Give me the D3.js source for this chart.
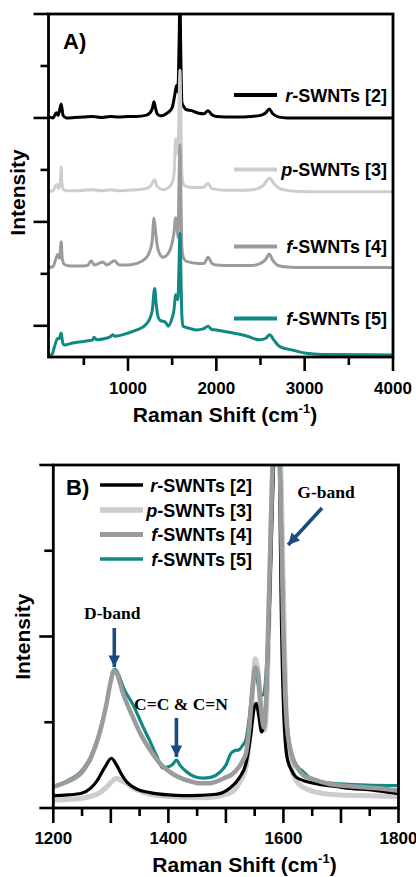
<!DOCTYPE html>
<html><head><meta charset="utf-8">
<script src="https://cdn.jsdelivr.net/npm/d3@7"></script>
<style>
html,body{margin:0;padding:0;background:#fff;}
svg{display:block;}
text{font-family:"Liberation Sans",Arial,sans-serif;font-weight:bold;fill:#000;}
.serif{font-family:"Liberation Serif","Times New Roman",serif;}
</style>
</head><body>
<svg id="c" width="416" height="877"></svg>
<script>
// ---------- DATA ----------
const seriesNames = ["r", "p", "f", "f"];
const seriesRefs = ["-SWNTs [2]", "-SWNTs [3]", "-SWNTs [4]", "-SWNTs [5]"];

// Panel A: full Raman spectra (offset stacked), [shift cm-1, intensity a.u.]
const rTop = [[100,4.02],[150,4.0],[190,4.1],[210,4.05],[244,4.27],[265,4.05],[300,4.0],[400,4.01],[500,4.02],[600,4.03],[700,4.01],[800,4.03],[900,4.02],[1000,4.03],[1100,4.03],[1200,4.05],[1250,4.1],[1275,4.18],[1294,4.31],[1310,4.2],[1330,4.08],[1370,4.04],[1400,4.05],[1450,4.1],[1500,4.2],[1530,4.45],[1550,4.63],[1565,4.5],[1578,5.4],[1588,6.3],[1598,5.2],[1610,4.3],[1630,4.22],[1660,4.16],[1720,4.14],[1800,4.09],[1860,4.08],[1906,4.14],[1950,4.06],[2000,4.03],[2200,4.02],[2400,4.03],[2500,4.05],[2560,4.1],[2598,4.17],[2640,4.08],[2700,4.02],[2800,4.0],[3000,4.0],[3500,4.0],[4000,4.0]];
const pTop = [[100,2.58],[150,2.6],[194,2.72],[215,2.64],[235,2.8],[244,3.06],[252,2.75],[270,2.62],[300,2.6],[400,2.6],[500,2.61],[600,2.62],[700,2.6],[800,2.62],[900,2.6],[1000,2.61],[1100,2.62],[1200,2.64],[1260,2.7],[1302,2.81],[1330,2.68],[1400,2.62],[1450,2.65],[1500,2.75],[1525,3.0],[1540,3.6],[1555,3.5],[1565,3.3],[1578,4.2],[1588,4.92],[1598,4.1],[1610,2.9],[1630,2.72],[1660,2.68],[1750,2.66],[1850,2.66],[1906,2.74],[1950,2.64],[2100,2.61],[2300,2.61],[2450,2.63],[2530,2.7],[2604,2.84],[2660,2.72],[2750,2.62],[2900,2.59],[3200,2.58],[4000,2.58]];
const f4Top = [[100,1.12],[150,1.14],[205,1.37],[225,1.3],[244,1.62],[255,1.3],[280,1.18],[350,1.15],[450,1.15],[540,1.16],[584,1.25],[620,1.17],[716,1.23],[760,1.17],[848,1.25],[900,1.17],[1000,1.17],[1100,1.2],[1200,1.3],[1250,1.45],[1275,1.65],[1294,2.07],[1310,1.85],[1330,1.55],[1360,1.38],[1396,1.32],[1450,1.38],[1500,1.6],[1525,1.85],[1536,2.08],[1555,1.95],[1565,1.7],[1578,2.8],[1588,3.48],[1598,2.6],[1610,1.5],[1630,1.3],[1661,1.24],[1800,1.2],[1860,1.2],[1906,1.32],[1950,1.2],[2000,1.17],[2200,1.16],[2400,1.16],[2500,1.2],[2560,1.28],[2598,1.38],[2640,1.26],[2700,1.16],[2800,1.13],[3000,1.12],[4000,1.12]];
const f5Top = [[100,-0.56],[140,-0.55],[168,-0.4],[205,-0.24],[220,-0.25],[244,-0.14],[260,-0.32],[281,-0.37],[376,-0.33],[500,-0.3],[602,-0.27],[613,-0.22],[650,-0.27],[750,-0.24],[800,-0.21],[826,-0.17],[850,-0.2],[1000,-0.14],[1100,-0.08],[1200,0.02],[1250,0.15],[1275,0.3],[1302,0.72],[1320,0.4],[1345,0.15],[1370,0.1],[1415,0.08],[1440,0.03],[1455,-0.01],[1490,0.1],[1520,0.3],[1540,0.6],[1555,0.55],[1565,0.5],[1578,1.2],[1588,1.78],[1598,1.1],[1610,0.2],[1623,-0.01],[1700,-0.05],[1775,-0.08],[1850,-0.06],[1906,-0.01],[1950,-0.07],[2000,-0.08],[2190,-0.14],[2350,-0.2],[2492,-0.27],[2560,-0.24],[2605,-0.17],[2650,-0.27],[2719,-0.40],[2870,-0.47],[3020,-0.53],[3200,-0.55],[4000,-0.56]];

// Panel B: zoom 1200-1800 cm-1, normalised intensity
const rZoom = [[1200,0.036],[1225,0.038],[1249,0.043],[1265,0.058],[1275,0.077],[1290,0.12],[1301,0.145],[1310,0.125],[1318,0.1],[1327,0.077],[1345,0.055],[1368,0.045],[1400,0.038],[1425,0.036],[1455,0.037],[1483,0.04],[1506,0.057],[1523,0.087],[1535,0.13],[1543,0.21],[1549,0.29],[1553,0.305],[1557,0.27],[1562,0.222],[1566,0.24],[1571,0.35],[1576,0.6],[1581,0.9],[1585,1.1],[1589,1.25],[1593,1.0],[1596,0.6],[1600,0.3],[1606,0.15],[1614,0.11],[1622,0.09],[1640,0.077],[1670,0.067],[1690,0.063],[1716,0.057],[1756,0.052],[1780,0.046],[1800,0.042]];
const pZoom = [[1200,0.023],[1225,0.025],[1249,0.028],[1265,0.034],[1281,0.045],[1295,0.065],[1305,0.082],[1310,0.087],[1318,0.08],[1327,0.072],[1339,0.058],[1355,0.046],[1368,0.04],[1400,0.034],[1425,0.031],[1455,0.03],[1483,0.033],[1500,0.04],[1512,0.048],[1523,0.072],[1535,0.12],[1542,0.22],[1547,0.36],[1551,0.435],[1555,0.41],[1559,0.32],[1563,0.26],[1567,0.227],[1571,0.3],[1574,0.5],[1578,0.8],[1582,1.05],[1588,1.25],[1594,1.1],[1598,0.8],[1601,0.55],[1604,0.32],[1608,0.2],[1614,0.12],[1622,0.08],[1635,0.06],[1645,0.052],[1670,0.042],[1700,0.038],[1750,0.036],[1800,0.033]];
const f4Zoom = [[1200,0.062],[1225,0.077],[1250,0.105],[1265,0.145],[1280,0.215],[1292,0.30],[1300,0.37],[1305,0.40],[1311,0.39],[1320,0.34],[1339,0.262],[1355,0.205],[1368,0.17],[1383,0.135],[1397,0.112],[1410,0.097],[1425,0.085],[1440,0.077],[1454,0.072],[1470,0.072],[1483,0.077],[1497,0.087],[1512,0.10],[1523,0.12],[1530,0.14],[1535,0.16],[1541,0.24],[1546,0.34],[1551,0.41],[1556,0.39],[1561,0.29],[1566,0.235],[1570,0.32],[1573,0.5],[1577,0.75],[1581,1.0],[1585,1.2],[1588,1.25],[1593,1.05],[1597,0.75],[1600,0.5],[1603,0.33],[1606,0.24],[1611,0.18],[1617,0.14],[1625,0.115],[1634,0.096],[1650,0.085],[1680,0.07],[1720,0.063],[1760,0.058],[1800,0.05]];
const f5Zoom = [[1200,0.063],[1225,0.08],[1250,0.11],[1265,0.15],[1280,0.22],[1292,0.30],[1300,0.37],[1307,0.405],[1313,0.39],[1322,0.35],[1339,0.30],[1355,0.24],[1368,0.195],[1380,0.15],[1390,0.117],[1400,0.12],[1408,0.128],[1414,0.14],[1420,0.125],[1430,0.108],[1445,0.092],[1460,0.087],[1475,0.09],[1490,0.105],[1500,0.125],[1509,0.16],[1515,0.167],[1523,0.17],[1530,0.185],[1535,0.2],[1541,0.27],[1546,0.35],[1551,0.39],[1555,0.37],[1560,0.33],[1565,0.33],[1570,0.4],[1575,0.6],[1580,0.9],[1585,1.15],[1589,1.25],[1594,1.05],[1598,0.7],[1601,0.45],[1605,0.28],[1610,0.19],[1617,0.145],[1625,0.12],[1634,0.106],[1651,0.082],[1670,0.075],[1686,0.072],[1744,0.067],[1800,0.065]];

const topXMajor = [1000, 2000, 3000, 4000];
const topXMinor = [500, 1500, 2500, 3500];
const topYMajor = [0, 2, 4, 6];
const topYMinor = [1, 3, 5];
const botXMajor = [1200, 1300, 1400, 1500, 1600, 1700, 1800];
const botXLabels = [1200, 1400, 1600, 1800];
const botXMinor = [1250, 1350, 1450, 1550, 1650, 1750];
const botYMajor = [0, 0.5, 1];
const botYMinor = [0.25, 0.75];

// annotations: [label, shift, intensity of arrow tip]
const bandNotes = [["D-band", 1306], ["C=C & C=N", 1414]];

// ---------- STYLE ----------
const colors = ["#000000", "#cdcdcd", "#9b9b9b", "#108983"];
const arrowColor = "#1b4c80";

const svg = d3.select("#c");

function frameAndAxes(g, x, y, L, R, T, B, xMaj, xMin, xLab, yMaj, yMin, majLen, minLen, yMajLen, yMinLen, labBase) {
  // ticks
  const ax = g.append("g");
  xMaj.forEach(v => ax.append("line").attr("x1", x(v)).attr("x2", x(v)).attr("y1", B).attr("y2", B + majLen));
  xMin.forEach(v => ax.append("line").attr("x1", x(v)).attr("x2", x(v)).attr("y1", B).attr("y2", B + minLen));
  yMaj.forEach(v => ax.append("line").attr("x1", L).attr("x2", L - yMajLen).attr("y1", y(v)).attr("y2", y(v)));
  yMin.forEach(v => ax.append("line").attr("x1", L).attr("x2", L - yMinLen).attr("y1", y(v)).attr("y2", y(v)));
  ax.selectAll("line").attr("stroke", "#000").attr("stroke-width", 2.6);
  xLab.forEach(v => g.append("text").attr("x", x(v)).attr("y", labBase).attr("text-anchor", "middle")
    .style("font-size", "17px").text(d3.format("d")(v)));
  g.append("rect").attr("x", L).attr("y", T).attr("width", R - L).attr("height", B - T)
    .attr("fill", "none").attr("stroke", "#000").attr("stroke-width", 2.8);
}

function axisTitles(g, cx, base, iy, ix) {
  const t = g.append("text").attr("x", cx).attr("y", base).attr("text-anchor", "middle").style("font-size", "21px");
  t.append("tspan").text("Raman Shift (cm");
  t.append("tspan").attr("dy", -9).style("font-size", "13px").text("-1");
  t.append("tspan").attr("dy", 9).text(")");
  g.append("text").attr("transform", `translate(${ix},${iy}) rotate(-90)`).attr("text-anchor", "middle")
    .style("font-size", "21px").text("Intensity");
}

function legendRow(g, x1, x2, tx, y, i, w, fs) {
  g.append("line").attr("x1", x1).attr("x2", x2).attr("y1", y).attr("y2", y)
    .attr("stroke", colors[i]).attr("stroke-width", w);
  const t = g.append("text").attr("x", tx).attr("y", y + 6.5).attr("text-anchor", "end").style("font-size", fs + "px");
  t.append("tspan").style("font-style", "italic").text(seriesNames[i]);
  t.append("tspan").text(seriesRefs[i]);
}

// ---------- PANEL A ----------
{
  const L = 48.5, R = 393, T = 14, B = 357;
  const x = d3.scaleLinear().domain([100, 4000]).range([L, R]);
  const y = d3.scaleLinear().domain([-0.6, 6]).range([B, T]);
  const g = svg.append("g");
  svg.append("defs").append("clipPath").attr("id", "clipA").append("rect")
    .attr("x", L).attr("y", T).attr("width", R - L).attr("height", B - T);
  const line = d3.line().x(d => x(d[0])).y(d => y(d[1])).curve(d3.curveMonotoneX);
  const cg = g.append("g").attr("clip-path", "url(#clipA)");
  [rTop, pTop, f4Top, f5Top].forEach((s, i) => {
    cg.append("path").datum(s).attr("d", line).attr("fill", "none")
      .attr("stroke", colors[i]).attr("stroke-width", 3).attr("stroke-linejoin", "round");
  });
  frameAndAxes(g, x, y, L, R, T, B, topXMajor, topXMinor, topXMajor, topYMajor, topYMinor, 14, 8, 15, 8, 393.5);
  axisTitles(g, 225, 421.5, 192.5, 25);
  g.append("text").attr("x", 63).attr("y", 49).style("font-size", "22px").text("A)");
  const rows = [95, 169.5, 246.5, 318.5];
  rows.forEach((yy, i) => legendRow(g, 234, 277, 387, yy, i, 4, 18));
}

// ---------- PANEL B ----------
{
  const L = 53.3, R = 398.5, T = 465, B = 808;
  const x = d3.scaleLinear().domain([1200, 1800]).range([L, R]);
  const y = d3.scaleLinear().domain([0, 1]).range([B, T]);
  const g = svg.append("g");
  svg.select("defs").append("clipPath").attr("id", "clipB").append("rect")
    .attr("x", L).attr("y", T).attr("width", R - L).attr("height", B - T);
  const line = d3.line().x(d => x(d[0])).y(d => y(d[1])).curve(d3.curveMonotoneX);
  const cg = g.append("g").attr("clip-path", "url(#clipB)");
  const order = [1, 0, 3, 2];
  const widths = [3.2, 5, 4.5, 3.2];
  const data = [rZoom, pZoom, f4Zoom, f5Zoom];
  order.forEach(i => {
    cg.append("path").datum(data[i]).attr("d", line).attr("fill", "none")
      .attr("stroke", colors[i]).attr("stroke-width", widths[i]).attr("stroke-linejoin", "round");
  });
  frameAndAxes(g, x, y, L, R, T, B, botXMajor, botXMinor, botXLabels, botYMajor, botYMinor, 15, 8, 14, 9, 843.5);
  axisTitles(g, 244.5, 871.5, 636.7, 30);
  g.append("text").attr("x", 66).attr("y", 494.5).style("font-size", "22px").text("B)");
  const rows = [485, 510, 534.5, 559];
  rows.forEach((yy, i) => legendRow(g, 100, 143, 252, yy, i, widths[i] + 0.3, 18));

  // arrows
  const defs = svg.select("defs");
  defs.append("marker").attr("id", "ah").attr("viewBox", "0 0 10 10").attr("refX", 10).attr("refY", 5)
    .attr("markerWidth", 3.2).attr("markerHeight", 3.4).attr("markerUnits", "strokeWidth").attr("orient", "auto")
    .append("path").attr("d", "M0,0 L10,5 L0,10 Z").attr("fill", arrowColor);
  function arrow(x1, y1, x2, y2) {
    g.append("line").attr("x1", x1).attr("y1", y1).attr("x2", x2).attr("y2", y2)
      .attr("stroke", arrowColor).attr("stroke-width", 3.6).attr("marker-end", "url(#ah)");
  }
  // G-band
  const gx = x(1589);
  g.append("text").attr("class", "serif").attr("x", 326).attr("y", 497.5).attr("text-anchor", "middle")
    .style("font-size", "17.5px").text("G-band");
  arrow(322, 508, gx + 11, 545);
  // D-band and C=C & C=N
  const dx = x(bandNotes[0][1]);
  g.append("text").attr("class", "serif").attr("x", dx - 2).attr("y", 619).attr("text-anchor", "middle")
    .style("font-size", "17.5px").text(bandNotes[0][0]);
  arrow(dx, 628, dx, 667);
  const cx = x(bandNotes[1][1]);
  g.append("text").attr("class", "serif").attr("x", 181).attr("y", 709.5).attr("text-anchor", "middle")
    .style("font-size", "17.5px").text(bandNotes[1][0]);
  arrow(cx, 718, cx, 757);
}
</script>
</body></html>
